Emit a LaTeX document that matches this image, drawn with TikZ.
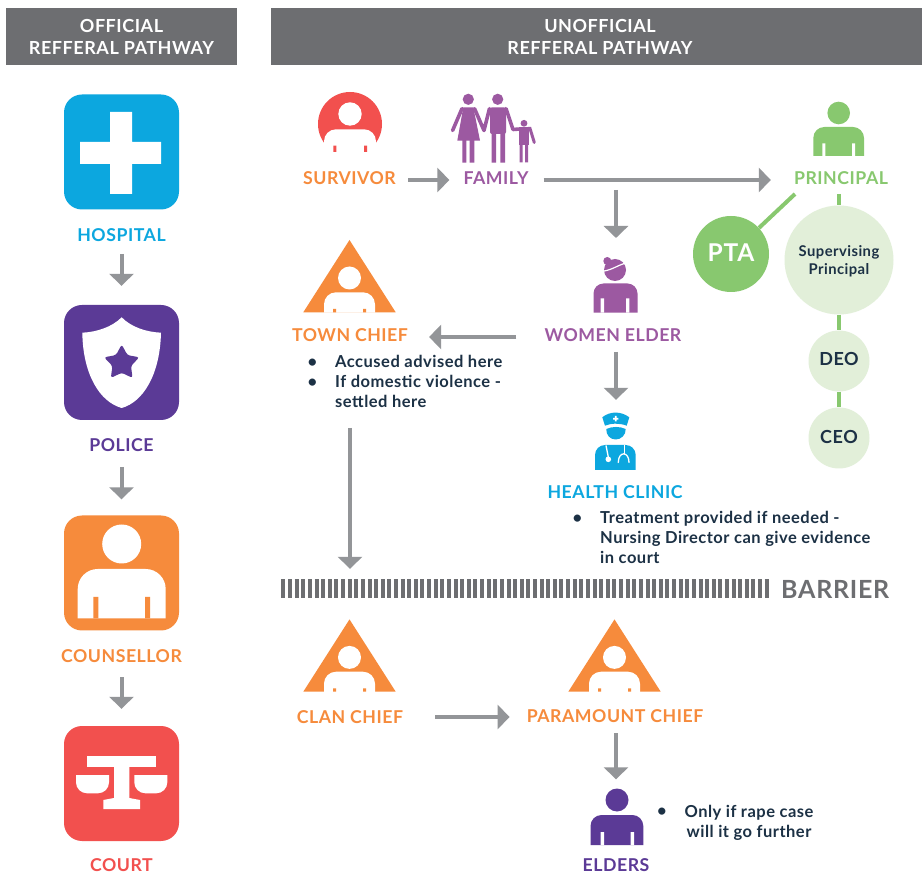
\documentclass[tikz,border=0pt]{standalone}
\usepackage{fontspec}
\setmainfont{Lato}[LetterSpace=3]
\usetikzlibrary{arrows.meta,shapes.geometric,calc}
\definecolor{cblue}{HTML}{0CA7DF}
\definecolor{corange}{HTML}{F68B3C}
\definecolor{cindigo}{HTML}{5B3A96}
\definecolor{cred}{HTML}{F2504E}
\definecolor{cviolet}{HTML}{9C59A1}
\definecolor{cgreen}{HTML}{88C86F}
\definecolor{cpale}{HTML}{E2EFD9}
\definecolor{cdark}{HTML}{1C3145}
\definecolor{cgrey}{HTML}{6D6E71}
\definecolor{carrow}{HTML}{939598}
\newcommand{\fsz}[2]{\fontsize{#1}{#2}\selectfont\bfseries}
\tikzset{
  x=1pt,y=-1pt,
  arr/.style={draw=carrow,line width=4pt,-{Triangle[length=12pt,width=24pt]}},
  glink/.style={draw=cgreen,line width=4pt},
  header/.style={fill=cgrey,text=white,minimum height=57pt,align=center,inner sep=0pt,font=\fsz{18}{22}},
  iconbox/.style={rectangle,rounded corners=18pt,minimum width=115pt,minimum height=115pt,inner sep=0pt,fill=#1},
  label/.style={inner sep=0pt,text=#1,font=\fsz{17.7}{20}},
  note/.style={inner sep=0pt,text=cdark,align=left,font=\fsz{16.5}{20}},
  ghost/.style={inner sep=0pt,minimum width=#1},
  round/.style={circle,inner sep=0pt,fill=cpale,text=cdark,minimum size=#1},
}
% body: x1 x2 top bottom radius colour
\newcommand{\bodyshape}[6]{\fill[#6] (#1,#4) [rounded corners=#5pt] -- (#1,#3) -- (#2,#3) [sharp corners] -- (#2,#4) -- cycle;}
% chief triangle: dx dy (offset from the town chief icon)
\newcommand{\chiefshape}[2]{%
  \begin{scope}[shift={(#1,#2)}]
    \fill[corange] (349.5,240) -- (395.7,312.3) -- (303.3,312.3) -- cycle;
    \fill[white] (349.5,278) circle[radius=11.5pt];
    \bodyshape{324}{375}{292.3}{312.6}{12}{white}
    \fill[corange] (333,309) rectangle (336,312.3) (363,309) rectangle (366,312.3);
  \end{scope}}
\begin{document}
\begin{tikzpicture}
\useasboundingbox (0,0) rectangle (922,874);
\fill[white] (0,0) rectangle (922,874);

% headers
\node[header,minimum width=231pt] (hdrA) at (121.5,36.5) {OFFICIAL\\REFFERAL PATHWAY};
\node[header,minimum width=658pt] (hdrB) at (600,36.5) {UNOFFICIAL\\REFFERAL PATHWAY};

% official pathway
\node[iconbox=cblue] (hospital) at (121.5,152) {};
\fill[white] (110,112) rectangle (132,194) (80,142) rectangle (161,164);
\node[label=cblue] (hospitalL) at (121.5,235) {HOSPITAL};

\node[iconbox=cindigo] (police) at (121.5,362.5) {};
\fill[white] (121.7,317.3) .. controls (112,327) and (97,332) .. (82.3,332.7)
  .. controls (83,375) and (100,402) .. (121.7,408)
  .. controls (143,402) and (160,375) .. (161,332.7)
  .. controls (146,332) and (131,327) .. (121.7,317.3) -- cycle;
\node[star,star points=5,star point ratio=1.9,fill=cindigo,minimum size=37pt,inner sep=0pt,rounded corners=2.5pt] (policeStar) at (121.7,363) {};
\node[label=cindigo] (policeL) at (121.5,445) {POLICE};

\node[iconbox=corange] (counsellor) at (121.5,573) {};
\fill[white] (121.7,544) circle[radius=19.5pt];
\bodyshape{77.7}{165.7}{569}{618.3}{20}{white}
\fill[corange] (93.3,597) rectangle (98.3,618.3) (145,597) rectangle (150,618.3);
\node[label=corange] (counsellorL) at (121.5,656) {COUNSELLOR};

\node[iconbox=cred] (court) at (121.5,783.5) {};
\fill[white] (87.3,755.7) rectangle (156,767.3);
\fill[white] (114,767) -- (129.3,767) -- (129.3,798) -- (140,800) -- (140,809) -- (103.3,809) -- (103.3,800) -- (114,798) -- cycle;
\fill[white] (76,775) [rounded corners=11pt] -- (76,793.3) -- (109,793.3) [sharp corners] -- (109,775) -- cycle;
\fill[white] (134.3,775) [rounded corners=11pt] -- (134.3,793.3) -- (167.3,793.3) [sharp corners] -- (167.3,775) -- cycle;
\node[label=cred] (courtL) at (121.5,865.5) {COURT};

\draw[arr] ([yshift=-19pt]hospitalL.center) -- ([yshift=19pt]police.north);
\draw[arr] ([yshift=-22pt]policeL.center) -- ([yshift=16pt]counsellor.north);
\draw[arr] ([yshift=-21pt]counsellorL.center) -- ([yshift=17pt]court.north);

% survivor
\fill[cred] (350,124) circle[radius=32pt];
\fill[white] (350,114) circle[radius=11.7pt];
\bodyshape{324}{376}{129.3}{157}{12}{white}
\fill[cred] (333.3,145.7) rectangle (336.3,152) (364,145.7) rectangle (367,152);
\node[label=corange] (survivorL) at (349.5,178) {SURVIVOR};

% family
\begin{scope}[cviolet]
  \fill (468.3,99.3) circle[radius=5.6pt] (497.7,99.3) circle[radius=5.6pt] (524,123.3) circle[radius=3.4pt];
  \fill (463.3,107.3) -- (473.3,107.3) -- (480,140.7) -- (457.3,140.7) -- cycle;
  \fill (462.3,140) rectangle (466.3,162.7) (469.7,140) rectangle (474.3,162.7);
  \draw[line width=3.6pt,line cap=round,line join=round] (462,108.6) -- (452.6,130.5);
  \draw[line width=3.6pt,line cap=round,line join=round] (474.5,108.6) -- (484,130.5) -- (489.5,108.6);
  \fill[rounded corners=2pt] (490,107.3) -- (506,107.3) -- (506,134) -- (490,134) -- cycle;
  \fill (491.7,133) rectangle (496,162.7) (500.3,133) rectangle (505,162.7);
  \draw[line width=3.6pt,line cap=round,line join=round] (506,108.6) -- (513,129.5) -- (520,129);
  \fill (519,127.3) rectangle (529,145);
  \fill (519.7,144) rectangle (522.7,162.3) (525,144) rectangle (528,162.3);
  \draw[line width=3pt,line cap=round] (528,128.5) -- (530,128.5) -- (534.3,142.5);
\end{scope}
\node[label=cviolet] (familyL) at (496,178) {FAMILY};

% principal
\fill[cgreen] (838.7,113) circle[radius=11.3pt];
\bodyshape{813.3}{864}{127}{156}{11}{cgreen}
\fill[white] (822.3,143.3) rectangle (825.3,156) (852,143.3) rectangle (855,156);
\node[label=cgreen] (principalL) at (841,178) {PRINCIPAL};

\coordinate (ptaFree) at (795,194);
\coordinate (supFree) at (839,194);
\node[circle,fill=cgreen,text=white,inner sep=0pt,minimum size=76pt,font=\fsz{24.5}{26}] (pta) at (731,254) {\raisebox{2pt}{PTA}};
\node[round=109pt] (sup) at (839,260) {};
\node[inner sep=0pt,text=cdark,align=center,font=\fsz{14.8}{18}] (supT) at (839,261) {Supervising\\Principal};
\node[round=61pt] (deo) at (839,361) {};
\node[inner sep=0pt,text=cdark,font=\fsz{18}{20}] (deoT) at (839,359) {DEO};
\node[round=61pt] (ceo) at (839,438) {};
\node[inner sep=0pt,text=cdark,font=\fsz{18}{20}] (ceoT) at (839,437) {CEO};
\draw[glink] (ptaFree) -- (pta.43);
\draw[glink] (supFree) -- (sup.north);
\draw[glink] (sup.south) -- (deo.north);
\draw[glink] (deo.south) -- (ceo.north);

% women elder
\fill[cviolet] (615,270) circle[radius=11pt] (607.3,261) circle[radius=4pt];
\draw[white,line width=1.2pt] (604,271) .. controls (612,270) and (620,264) .. (626.5,263);
\bodyshape{593.5}{637.5}{283.5}{312.7}{10}{cviolet}
\fill[white] (600.7,298.3) rectangle (604,312.7) (626,298.3) rectangle (629.3,312.7);
\node[label=cviolet] (womenL) at (613,335) {WOMEN ELDER};

% health clinic
\node[ghost=44pt,minimum height=58pt] (clinicIcon) at (615.7,441) {};
\begin{scope}[cblue]
  \fill (602.3,417.3) .. controls (610,411) and (621,411) .. (629.3,417.3) -- (626.7,425.7) .. controls (620,423) and (611,423) .. (605,425.7) -- cycle;
  \fill (606.3,429) .. controls (612,426.3) and (620,426.3) .. (625.7,429) .. controls (626,435) and (621,439.5) .. (615.7,439.5) .. controls (610,439.5) and (606,435) .. (606.3,429) -- cycle;
\end{scope}
\fill[white] (614.8,416) rectangle (616.6,421.4) (613,417.8) rectangle (618.4,419.6);
\bodyshape{595}{635.7}{445}{470}{10}{cblue}
\draw[white,line width=1.3pt] (606,445.5) -- (608.3,457);
\fill[white] (608.3,459.3) circle[radius=2.8pt];
\draw[white,line width=1.3pt] (624.3,445.5) -- (624.3,454);
\draw[white,line width=1.3pt,line cap=round] (618.3,462.5) .. controls (618.3,451) and (629,451) .. (629,462.5);
\node[label=cblue] (clinicL) at (615,492) {HEALTH CLINIC};

% town chief
\chiefshape{0}{0}
\node[label=corange] (townL) at (350,335) {TOWN CHIEF};
\node[note,anchor=north west] (townA) at (335,355.5) {\llap{\textbullet\hspace{18pt}}Accused advised here};
\node[note,anchor=north west] (townB) at (335,375.5) {\llap{\textbullet\hspace{18pt}}If domestic violence -\\settled here};
\coordinate (townDown) at (350,428);

\node[note,anchor=north west] (clinicN) at (600,511.5) {\llap{\textbullet\hspace{18pt}}Treatment provided if needed -\\Nursing Director can give evidence\\in court};

% barrier
\node[inner sep=0pt,minimum width=488.3pt,minimum height=19pt] (barrier) at (525.8,588.5) {};
\draw[cgrey,line width=19pt,dash pattern=on 4pt off 2.62pt] (barrier.west) -- (barrier.east);
\node[inner sep=0pt,text=cgrey,anchor=west,font=\fsz{25}{28}] (barrierL) at (781,589) {BARRIER};

% lower chiefs
\chiefshape{0}{379.4}
\node[label=corange] (clanL) at (350,717) {CLAN CHIEF};
\chiefshape{265}{379.4}
\node[label=corange] (paraL) at (615,716) {PARAMOUNT CHIEF};

% elders
\node[ghost=53pt,minimum height=57pt] (eldersIcon) at (617,817) {};
\fill[cindigo] (617,800) circle[radius=11.5pt];
\bodyshape{590.5}{643.3}{815}{845}{11}{cindigo}
\fill[white] (600.5,832) rectangle (604,845) (630.5,832) rectangle (634,845);
\node[label=cindigo] (eldersL) at (616,865.5) {ELDERS};
\node[note,align=center,anchor=north] (eldersN) at (749,805) {Only if rape case\\will it go further};
\node[inner sep=0pt,text=cdark,font=\fsz{16.5}{20}] (eldersB) at (662,812.5) {\textbullet};

% connectors
\draw[arr] ([xshift=12pt,yshift=-2pt]survivorL.east) -- ([xshift=-14pt,yshift=-2pt]familyL.west);
\draw[arr] ([xshift=15pt,yshift=-2pt]familyL.east) -- ([xshift=-23pt,yshift=-2pt]principalL.west);
\coordinate (branch) at (616,190);
\draw[arr] (branch) -- ([yshift=97pt]branch |- womenL.center);
\draw[arr] ([xshift=3pt,yshift=-17pt]womenL.center) -- ([xshift=3pt,yshift=12pt]womenL.center |- clinicIcon.north);
\draw[arr] ([xshift=-28pt,yshift=-2pt]womenL.west) -- ([xshift=21pt,yshift=-2pt]womenL.west -| townL.east);
\draw[arr] (townDown) -- ([yshift=10pt]townDown |- barrier.north);
\draw[arr] ([xshift=32pt]clanL.east) -- ([xshift=-17pt]clanL.east -| paraL.west);
\draw[arr] ([xshift=1pt,yshift=-17pt]paraL.center) -- ([xshift=1pt,yshift=9pt]paraL.center |- eldersIcon.north);
\end{tikzpicture}
\end{document}
